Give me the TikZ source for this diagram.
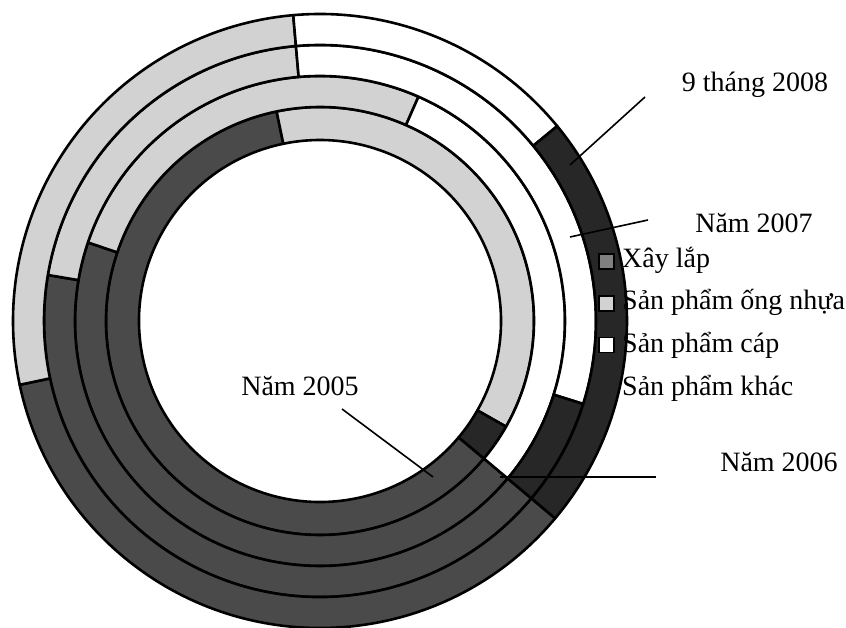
\documentclass[tikz,border=0pt]{standalone}
\usepackage{fontspec}
\setmainfont{Liberation Serif}

\definecolor{xaylap}{HTML}{4A4A4A}
\definecolor{ongnhua}{HTML}{D2D2D2}
\definecolor{capw}{HTML}{FFFFFF}
\definecolor{khac}{HTML}{272727}

% one piece of a ring: inner radius, outer radius, from angle, to angle, colour
\newcommand{\ringpart}[5]{%
  \filldraw[ring, fill=#5] (#3:#2) arc[start angle=#3, end angle=#4, radius=#2]
    -- (#4:#1) arc[start angle=#4, end angle=#3, radius=#1] -- cycle;}

\begin{document}
\begin{tikzpicture}[x=1pt, y=1pt,
    ring/.style={line width=2.6pt, line join=round},
    leader/.style={line width=1.6pt},
    yearlabel/.style={font=\fontsize{28}{32}\selectfont, anchor=base, inner sep=0pt},
    legendbox/.style={draw, line width=1.6pt, minimum size=15pt, inner sep=0pt},
    legendtext/.style={font=\fontsize{28}{32}\selectfont, anchor=base west, inner sep=0pt}]
  \useasboundingbox (0,0) rectangle (846,628);

  \begin{scope}[shift={(320,307)}]
    % Năm 2005
    \ringpart{181}{214}{320}{101.7}{xaylap}
    \ringpart{181}{214}{101.7}{-29.6}{ongnhua}
    \ringpart{181}{214}{-29.6}{-40}{khac}
    % Năm 2006
    \ringpart{214}{245}{320}{161.3}{xaylap}
    \ringpart{214}{245}{161.3}{66.3}{ongnhua}
    \ringpart{214}{245}{66.3}{-40}{capw}
    % Năm 2007
    \ringpart{245}{276}{320}{170.4}{xaylap}
    \ringpart{245}{276}{170.4}{95}{ongnhua}
    \ringpart{245}{276}{95}{-17.5}{capw}
    \ringpart{245}{276}{-17.5}{-40}{khac}
    % 9 tháng 2008
    \ringpart{276}{307}{320}{192}{xaylap}
    \ringpart{276}{307}{192}{95}{ongnhua}
    \ringpart{276}{307}{95}{39.4}{capw}
    \ringpart{276}{307}{39.4}{-40}{khac}
  \end{scope}

  % year labels and their leaders
  \node[yearlabel] (y2008) at (755,536) {9 tháng 2008};
  \node[yearlabel] (y2007) at (754,395) {Năm 2007};
  \node[yearlabel] (y2005) at (300,232) {Năm 2005};
  \node[yearlabel] (y2006) at (779,156) {Năm 2006};

  \coordinate (r2008) at (570,463);
  \coordinate (e2008) at (645,531);
  \coordinate (r2007) at (570,391);
  \coordinate (e2007) at (648,408);
  \coordinate (r2005) at (433,151);
  \coordinate (e2005) at (342,219);
  \coordinate (r2006) at (500,151);
  \coordinate (e2006) at (656,151);
  \draw[leader] (r2008) -- (e2008);
  \draw[leader] (r2007) -- (e2007);
  \draw[leader] (r2005) -- (e2005);
  \draw[leader] (r2006) -- (e2006);

  % legend
  \node[legendbox, fill=xaylap!70!white] (k1) at (606.5,366.5) {};
  \node[legendbox, fill=ongnhua] (k2) at (606.5,324.5) {};
  \node[legendbox, fill=capw] (k3) at (606.5,283) {};
  \node[legendtext] (t1) at (622,360) {Xây lắp};
  \node[legendtext] (t2) at (622,318) {Sản phẩm ống nhựa};
  \node[legendtext] (t3) at (622,275) {Sản phẩm cáp};
  \node[legendtext] (t4) at (622,232) {Sản phẩm khác};
\end{tikzpicture}
\end{document}
